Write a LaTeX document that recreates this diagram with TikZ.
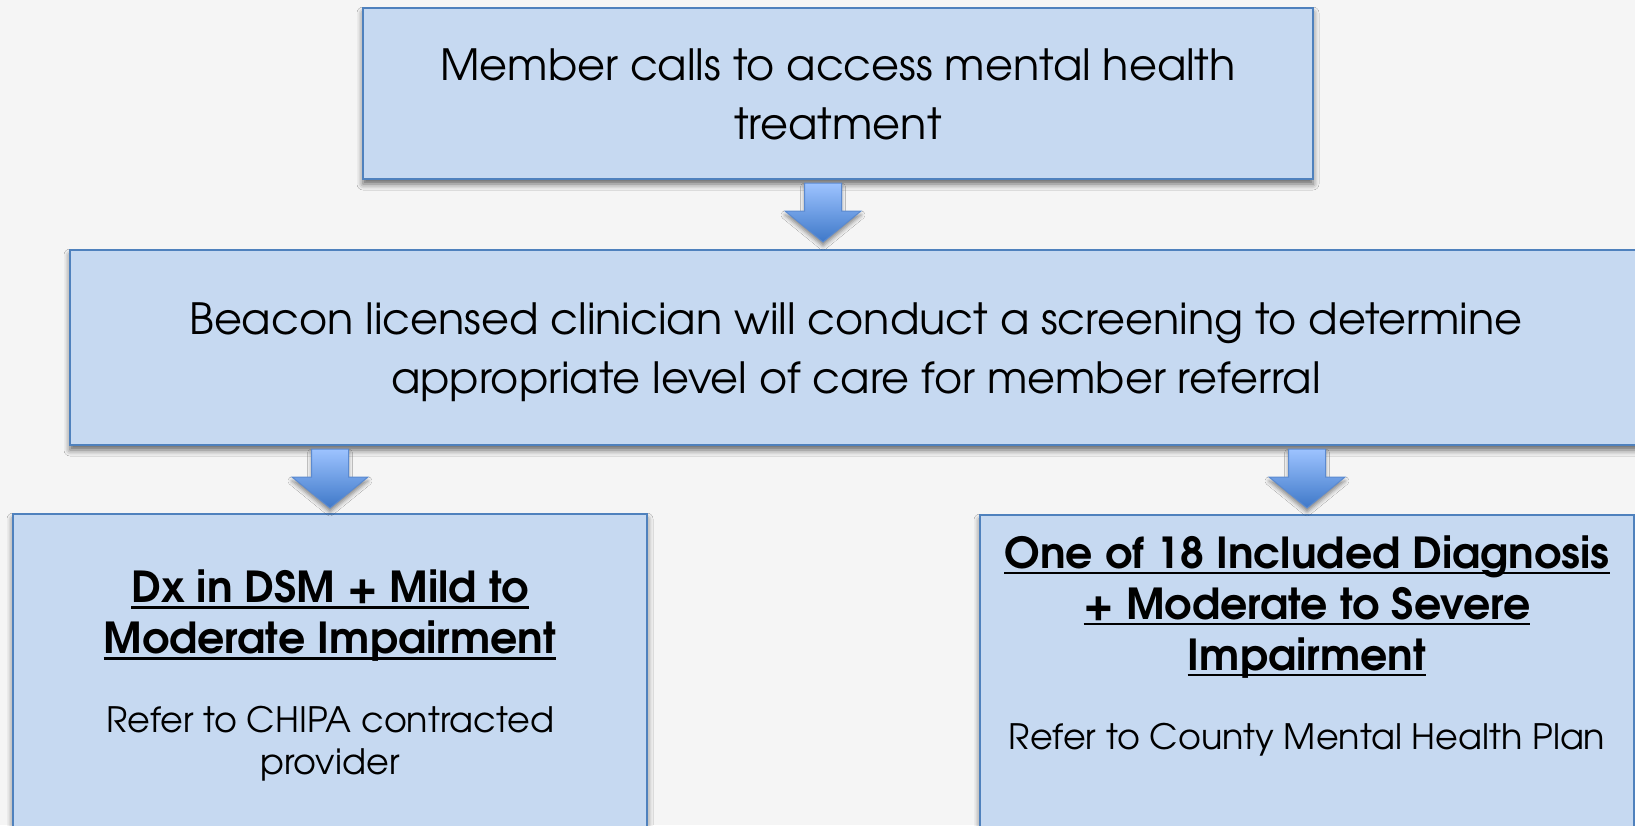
\documentclass[tikz,border=0pt]{standalone}
\usepackage{fontspec}
\setmainfont{TeX Gyre Adventor}
\usetikzlibrary{shadows.blur}
\definecolor{pagebg}{HTML}{F5F5F5}
\definecolor{boxfill}{HTML}{C6D9F1}
\definecolor{boxline}{HTML}{4F81BD}
\definecolor{arrowtop}{HTML}{9DC3FF}
\definecolor{arrowbot}{HTML}{3E78C8}
\definecolor{arrowline}{HTML}{5B8AD0}
% underline drawn as a rule under the whole line
\newcommand\ulbar[1]{\setbox0=\hbox{#1}\rlap{\rule[-6pt]{\wd0}{2.8pt}}\box0}

\begin{document}
\begin{tikzpicture}[x=1pt,y=-1pt,
  panel/.style={draw=boxline, line width=2pt, fill=boxfill, rectangle, inner sep=0pt,
    blur shadow={shadow xshift=0pt, shadow yshift=-5pt, shadow blur radius=6pt, shadow opacity=60}},
  bigtext/.style={font=\fontsize{43}{59}\selectfont, align=center, text=black},
  headtext/.style={font=\fontsize{42.7}{51}\selectfont\bfseries, align=center, text=black},
  bodytext/.style={font=\fontsize{35}{42}\selectfont, align=center, text=black},
  downarrow/.pic={
    \path[draw=arrowline, line width=1pt, top color=arrowtop, bottom color=arrowbot,
          line join=miter,
          blur shadow={shadow xshift=0pt, shadow yshift=-4pt, shadow blur radius=4pt, shadow opacity=45}]
      (0,0) -- (-38,-31) -- (-18.5,-31) -- (-18.5,-59) -- (18.5,-59) -- (18.5,-31) -- (38,-31) -- cycle;
  }]
  % page
  \fill[pagebg] (0,0) rectangle (1635,825);
  \useasboundingbox (0,0) rectangle (1635,825);
  \clip (0,0) rectangle (1635,825);

  % boxes
  \node[panel, minimum width=950pt, minimum height=171pt] (top) at (838,93.5) {};
  \node[panel, minimum width=1572pt, minimum height=195pt] (mid) at (856,347.5) {};
  \node[panel, minimum width=634pt, minimum height=386pt] (lbox) at (330,707) {};
  \node[panel, minimum width=654pt, minimum height=385pt] (rbox) at (1307,707.5) {};

  % block arrows
  \path (mid.north) ++(-33,-7) pic {downarrow};
  \path (lbox.north) ++(0,-5) pic {downarrow};
  \path (rbox.north) ++(0,-6) pic {downarrow};

  % texts
  \node[bigtext] (toptext) at (838,94) {Member calls to access mental health\\treatment};
  \node[bigtext] (midtext) at (856,352) {Beacon licensed clinician will conduct a screening to determine\\appropriate level of care for member referral};
  \node[headtext] (lhead) at (330,616) {\ulbar{Dx in DSM + Mild to}\\\ulbar{Moderate Impairment}};
  \node[bodytext] (lbody) at (330,744) {Refer to CHIPA contracted\\provider};
  \node[headtext] (rhead) at (1307,607) {\ulbar{One of 18 Included Diagnosis}\\\ulbar{+ Moderate to Severe}\\\ulbar{Impairment}};
  \node[bodytext] (rbody) at (1307,740) {Refer to County Mental Health Plan};
\end{tikzpicture}
\end{document}
